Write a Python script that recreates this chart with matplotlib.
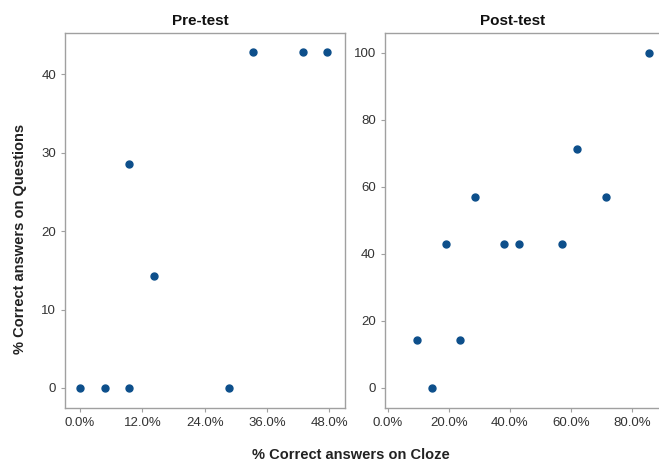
import matplotlib
matplotlib.use('Agg')
import matplotlib.pyplot as plt
from matplotlib.ticker import FuncFormatter

plt.rcParams['font.family'] = ['Liberation Sans', 'DejaVu Sans']

# Pre-test: % correct on cloze vs % correct on questions
pre_cloze = [0.0, 4.8, 9.5, 9.5, 14.3, 28.6, 33.3, 42.9, 47.6]
pre_questions = [0.0, 0.0, 0.0, 28.6, 14.3, 0.0, 42.9, 42.9, 42.9]
pre_xticks = [0, 12, 24, 36, 48]
pre_yticks = [0, 10, 20, 30, 40]

# Post-test
post_cloze = [9.5, 14.3, 19.0, 23.8, 28.6, 38.1, 42.9, 57.1, 61.9, 71.4, 85.7]
post_questions = [14.3, 0.0, 42.9, 14.3, 57.1, 42.9, 42.9, 42.9, 71.4, 57.1, 100.0]
post_xticks = [0, 20, 40, 60, 80]
post_yticks = [0, 20, 40, 60, 80, 100]

k_marker_color = '#0d4f8b'
k_spine_color = '#a0a0a0'
k_text_color = '#333333'

fig = plt.figure(figsize=(6.59, 4.63), dpi=100)
ax_pre = fig.add_axes([0.0986, 0.119, 0.425, 0.81])
ax_post = fig.add_axes([0.584, 0.119, 0.428, 0.81])

def style_axis(ax, title, title_x):
  for spine in ax.spines.values():
    spine.set_color(k_spine_color)
    spine.set_linewidth(1.0)
  ax.tick_params(colors=k_spine_color, labelcolor=k_text_color, labelsize=9.5, length=3, width=0.8)
  ax.xaxis.set_major_formatter(FuncFormatter(lambda v, p: '{0:.1f}%'.format(v)))
  ax.set_title(title, fontsize=11, fontweight='bold', color='#111111', pad=6, x=title_x)

ax_pre.plot(pre_cloze, pre_questions, 'o', color=k_marker_color, markersize=5)
ax_pre.set_xlim(-2.9, 51.0)
ax_pre.set_ylim(-2.55, 45.3)
ax_pre.set_xticks(pre_xticks)
ax_pre.set_yticks(pre_yticks)
style_axis(ax_pre, 'Pre-test', 0.482)

ax_post.plot(post_cloze, post_questions, 'o', color=k_marker_color, markersize=5)
ax_post.set_xlim(-1.0, 91.5)
ax_post.set_ylim(-6.0, 106.0)
ax_post.set_xticks(post_xticks)
ax_post.set_yticks(post_yticks)
style_axis(ax_post, 'Post-test', 0.454)

fig.text(0.03, 0.484, '% Correct answers on Questions', rotation=90, ha='center', va='center',
         fontsize=10.5, fontweight='bold', color='#222222')
fig.text(0.533, 0.017, '% Correct answers on Cloze', ha='center', va='center',
         fontsize=10.5, fontweight='bold', color='#222222')

fig.savefig('out.png', dpi=100)
